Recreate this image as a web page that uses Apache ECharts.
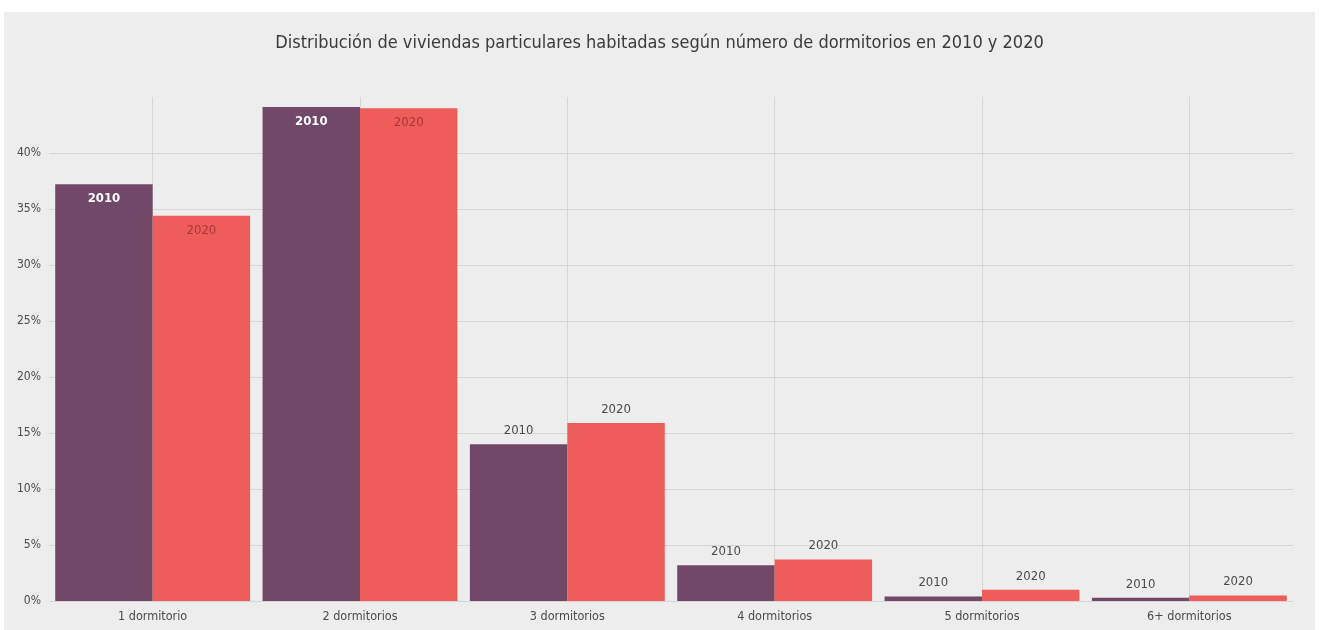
<!DOCTYPE html>
<html>
<head>
<meta charset="utf-8">
<script src="https://cdn.jsdelivr.net/npm/echarts@6/dist/echarts.min.js"></script>
<style>
	html, body { margin: 0; padding: 0; background: #ffffff; }
	#main { position: absolute; left: 4px; top: 12px; width: 1311px; height: 618px; }
</style>
</head>
<body>
<div id="main"></div>
<script>
	var categories = ["1 dormitorio", "2 dormitorios", "3 dormitorios", "4 dormitorios", "5 dormitorios", "6+ dormitorios"];
	var values2010 = [37.2, 44.1, 14.0, 3.2, 0.4, 0.3];
	var values2020 = [34.4, 44.0, 15.9, 3.7, 1.0, 0.5];
	var yTicks = [0, 5, 10, 15, 20, 25, 30, 35, 40, 45];

	var fontName = "'Liberation Sans Narrow', 'DejaVu Sans Condensed', sans-serif";

	// etiquetas dentro de la barra cuando es alta, encima cuando es baja
	function buildData(values, insideColor, insideWeight) {
		return values.map(function(v) {
			if (v > 20) {
				return {
					value: v,
					label: { position: "insideTop", distance: 8, color: insideColor, fontWeight: insideWeight }
				};
			}
			return { value: v, label: { position: "top", distance: 7, color: "#4a4a4a" } };
		});
	}

	var chart = echarts.init(document.getElementById("main"));
	chart.setOption({
		backgroundColor: "#ededed",
		animation: false,
		textStyle: { fontFamily: fontName },
		title: {
			text: "Distribución de viviendas particulares habitadas según número de dormitorios en 2010 y 2020",
			left: "center",
			top: 17,
			textStyle: { fontFamily: fontName, fontSize: 18, fontWeight: "normal", color: "#3a3a3a" }
		},
		grid: { left: 45, right: 22, top: 85, bottom: 29 },
		xAxis: {
			type: "category",
			data: categories,
			axisTick: { show: false },
			axisLine: { show: false },
			axisLabel: { color: "#4a4a4a", fontSize: 12.5, margin: 9, fontFamily: fontName },
			splitLine: { show: true, alignWithLabel: true, lineStyle: { color: "#d6d6d6", width: 1 } }
		},
		yAxis: {
			type: "value",
			min: yTicks[0],
			max: yTicks[yTicks.length - 1],
			interval: 5,
			axisTick: { show: false },
			axisLine: { show: false },
			axisLabel: {
				color: "#4a4a4a",
				fontSize: 12,
				margin: 8,
				fontFamily: fontName,
				showMaxLabel: false,
				formatter: function(v) { return v === 45 ? "" : v + "%"; }
			},
			splitLine: { show: true, showMaxLine: false, lineStyle: { color: "#d6d6d6", width: 1 } }
		},
		series: [
			{
				name: "2010",
				type: "bar",
				barGap: "0%",
				barCategoryGap: "6%",
				itemStyle: { color: "#714868" },
				label: { show: true, formatter: "{a}", fontSize: 13, fontFamily: fontName },
				data: buildData(values2010, "#ffffff", "bold")
			},
			{
				name: "2020",
				type: "bar",
				barGap: "0%",
				barCategoryGap: "6%",
				itemStyle: { color: "#ef5d5b" },
				label: { show: true, formatter: "{a}", fontSize: 13, fontFamily: fontName },
				data: buildData(values2020, "#a8373a", "normal")
			}
		]
	});
</script>
</body>
</html>
